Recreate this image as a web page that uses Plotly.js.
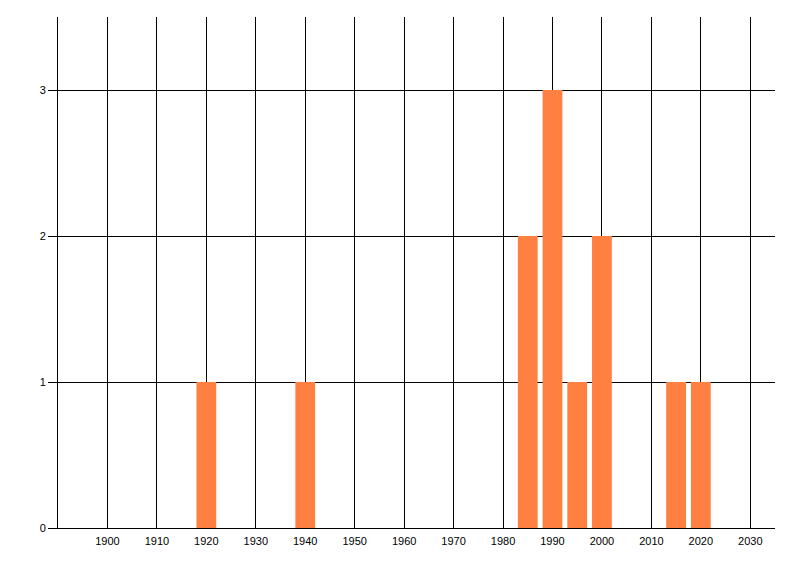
<!DOCTYPE html>
<html>
<head>
<meta charset="utf-8">
<script src="https://cdn.plot.ly/plotly-3.0.1.min.js"></script>
<style>
  html, body { margin: 0; padding: 0; background: #fff; }
  #chart { width: 800px; height: 576px; }
</style>
</head>
<body>
<div id="chart"></div>
<script>
// bars
var years = [1920, 1940, 1985, 1990, 1995, 2000, 2015, 2020];
var counts = [1, 1, 2, 3, 1, 2, 1, 1];
var xTicks = [1900, 1910, 1920, 1930, 1940, 1950, 1960, 1970, 1980, 1990, 2000, 2010, 2020, 2030];
var yTicks = [0, 1, 2, 3];

var trace = {
  type: 'bar',
  x: years,
  y: counts,
  width: 4,
  marker: { color: '#ff8040', line: { width: 0 } },
  hoverinfo: 'x+y'
};

var layout = {
  width: 800,
  height: 576,
  margin: { l: 58, r: 25, t: 17, b: 48 },
  paper_bgcolor: '#fff',
  plot_bgcolor: '#fff',
  showlegend: false,
  font: { family: 'Liberation Sans, Arial, sans-serif', size: 11, color: '#000' },
  xaxis: {
    range: [1890, 2035],
    tickvals: xTicks,
    ticktext: xTicks.map(String),
    showgrid: true,
    gridcolor: '#000',
    gridwidth: 1,
    showline: true,
    linecolor: '#000',
    linewidth: 1,
    ticks: '',
    ticklabelstandoff: 3,
    zeroline: false,
    fixedrange: true
  },
  yaxis: {
    range: [0, 3.5],
    tickvals: yTicks,
    ticktext: yTicks.map(String),
    showgrid: true,
    gridcolor: '#000',
    gridwidth: 1,
    showline: true,
    linecolor: '#000',
    linewidth: 1,
    ticks: 'outside',
    ticklen: 9,
    tickcolor: '#000',
    zeroline: false,
    fixedrange: true
  }
};

Plotly.newPlot('chart', [trace], layout, { displayModeBar: false, staticPlot: true });
</script>
</body>
</html>
